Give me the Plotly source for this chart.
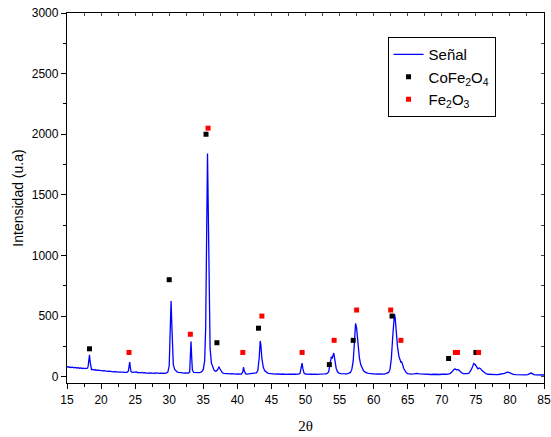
import plotly.graph_objects as go

# Signal (2theta, intensity)
sig_x = [15.0, 15.2, 15.4, 15.6, 15.8, 16.0, 16.2, 16.4, 16.6, 16.8, 17.0, 17.2, 17.4, 17.6, 17.8, 18.0, 18.1, 18.2, 18.3, 18.4, 18.5, 18.6, 18.8,
         19.0, 19.2, 19.4, 19.6, 19.8, 20.0, 20.2, 20.4, 20.6, 20.8, 21.0, 21.2, 21.4, 21.6, 21.8, 22.0, 22.2, 22.4, 22.6, 22.8,
         23.0, 23.2, 23.4, 23.6, 23.8, 24.0, 24.1, 24.2, 24.3, 24.4, 24.6, 24.8, 25.0, 25.2, 25.4, 25.6, 25.8, 26.0, 26.2, 26.4,
         26.6, 26.8, 27.0, 27.2, 27.4, 27.6, 27.8, 28.0, 28.2, 28.4, 28.6, 28.8, 29.0, 29.2, 29.4, 29.6, 29.8, 30.0, 30.1, 30.2,
         30.27, 30.35, 30.45, 30.6, 30.8, 31.0, 31.2, 31.4, 31.6, 31.8, 32.0, 32.2, 32.4, 32.6, 32.8, 33.0, 33.1, 33.2, 33.3, 33.4,
         33.6, 33.8, 34.0, 34.2, 34.4, 34.6, 34.8, 35.0, 35.2, 35.35, 35.45, 35.55, 35.62, 35.7, 35.8, 35.9, 36.0, 36.2, 36.4,
         36.6, 36.8, 37.0, 37.2, 37.3, 37.4, 37.6, 37.8, 38.0, 38.2, 38.4, 38.6, 38.8, 39.0, 39.2, 39.4, 39.6, 39.8, 40.0, 40.2,
         40.4, 40.6, 40.8, 40.9, 41.0, 41.2, 41.4, 41.6, 41.8, 42.0, 42.2, 42.4, 42.6, 42.8, 43.0, 43.2, 43.35, 43.45, 43.6, 43.8,
         44.0, 44.2, 44.4, 44.6, 44.8, 45.0, 45.2, 45.4, 45.6, 45.8, 46.0, 46.2, 46.4, 46.6, 46.8, 47.0, 47.2, 47.4, 47.6, 47.8,
         48.0, 48.2, 48.4, 48.6, 48.8, 49.0, 49.2, 49.4, 49.5, 49.6, 49.8, 50.0, 50.2, 50.4, 50.6, 50.8, 51.0, 51.2, 51.4, 51.6,
         51.8, 52.0, 52.2, 52.4, 52.6, 52.8, 53.0, 53.2, 53.4, 53.6, 53.8, 53.9, 54.0, 54.15, 54.3, 54.5, 54.7, 54.9, 55.2, 55.4,
         55.6, 55.8, 56.0, 56.2, 56.4, 56.6, 56.8, 57.0, 57.2, 57.35, 57.5, 57.7, 57.9, 58.1, 58.3, 58.5, 58.7, 58.9, 59.1, 59.3,
         59.5, 59.8, 60.0, 60.3, 60.6, 60.9, 61.2, 61.5, 61.8, 62.0, 62.2, 62.4, 62.6, 62.8, 62.95, 63.05, 63.15, 63.3, 63.5, 63.7,
         63.9, 64.0, 64.1, 64.2, 64.4, 64.6, 64.8, 65.0, 65.3, 65.6, 65.9, 66.2, 66.4, 66.7, 67.0, 67.3, 67.6, 67.9, 68.2, 68.5,
         68.8, 69.1, 69.4, 69.7, 70.0, 70.3, 70.6, 70.9, 71.2, 71.5, 71.8, 72.0, 72.2, 72.4, 72.6, 72.9, 73.2, 73.5, 73.8, 74.0,
         74.2, 74.5, 74.7, 74.9, 75.1, 75.3, 75.5, 75.7, 75.9, 76.2, 76.5, 76.8, 77.1, 77.4, 77.7, 78.0, 78.3, 78.6, 78.9, 79.2,
         79.5, 79.7, 79.9, 80.2, 80.5, 80.8, 81.1, 81.4, 81.7, 82.0, 82.3, 82.6, 82.9, 83.1, 83.3, 83.5, 83.8, 84.1, 84.4, 84.7, 85.0]
sig_y = [82, 78, 80, 76, 79, 74, 77, 72, 75, 70, 72, 68, 71, 66, 68, 70, 85, 130, 180, 120, 70, 58, 60,
         55, 57, 52, 54, 50, 52, 48, 50, 46, 48, 44, 46, 42, 44, 40, 42, 38, 40, 37, 39,
         36, 38, 35, 37, 36, 45, 90, 120, 75, 42, 36, 38, 34, 40, 33, 36, 32, 35, 31, 34,
         30, 33, 30, 32, 29, 31, 28, 31, 28, 30, 27, 30, 28, 30, 28, 32, 38, 90, 250, 520,
         625, 480, 220, 100, 60, 45, 38, 35, 32, 31, 30, 29, 31, 28, 30, 38, 150, 290, 160, 55,
         35, 33, 32, 34, 33, 36, 42, 60, 130, 400, 1000, 1600, 1840, 1500, 900, 450, 230, 110, 70,
         52, 45, 50, 70, 82, 70, 45, 32, 28, 26, 25, 24, 26, 23, 25, 22, 24, 22, 23, 21,
         23, 22, 40, 78, 50, 25, 22, 24, 22, 23, 24, 26, 28, 32, 50, 150, 295, 260, 150, 80,
         50, 38, 32, 28, 26, 24, 23, 24, 22, 23, 21, 22, 20, 22, 20, 21, 19, 21, 20, 22,
         19, 21, 19, 20, 22, 21, 28, 80, 112, 70, 28, 21, 20, 22, 19, 21, 20, 22, 20, 21,
         19, 21, 20, 22, 21, 23, 24, 28, 40, 90, 165, 150, 170, 195, 140, 70, 40, 30, 26, 24,
         23, 25, 24, 26, 28, 35, 60, 130, 300, 440, 400, 260, 160, 100, 70, 50, 40, 33, 30, 27,
         25, 24, 23, 22, 23, 21, 23, 22, 25, 28, 35, 60, 150, 330, 500, 515, 490, 380, 250, 170,
         135, 120, 122, 110, 70, 45, 32, 26, 23, 22, 24, 30, 28, 24, 22, 20, 22, 19, 20, 18,
         20, 18, 19, 18, 20, 18, 20, 22, 26, 40, 60, 63, 55, 60, 45, 32, 25, 23, 25, 30,
         45, 80, 108, 100, 75, 65, 72, 66, 50, 35, 25, 20, 18, 17, 18, 17, 18, 20, 22, 28,
         35, 38, 34, 26, 20, 17, 16, 17, 15, 16, 15, 17, 22, 30, 25, 17, 15, 14, 15, 13, 14]

# Phase markers
cofe_x = [18.3, 30.0, 35.4, 37.0, 43.1, 53.5, 57.0, 62.7, 71.0, 75.0]
cofe_y = [230, 800, 2000, 280, 400, 100, 300, 500, 150, 200]
fe_x = [24.1, 33.1, 35.7, 40.8, 43.6, 49.5, 54.2, 57.5, 62.5, 64.0, 72.0, 72.3, 75.4]
fe_y = [200, 350, 2050, 200, 500, 200, 300, 550, 550, 300, 200, 200, 200]

fig = go.Figure()
fig.add_trace(go.Scatter(x=sig_x, y=sig_y, mode="lines", name="Señal",
                         line=dict(color="#0000FF", width=1.3)))
fig.add_trace(go.Scatter(x=cofe_x, y=cofe_y, mode="markers", name="CoFe<sub>2</sub>O<sub>4</sub>",
                         marker=dict(symbol="square", color="black", size=5)))
fig.add_trace(go.Scatter(x=fe_x, y=fe_y, mode="markers", name="Fe<sub>2</sub>O<sub>3</sub>",
                         marker=dict(symbol="square", color="#FF0000", size=5)))
# dummy trace for mirrored inside-tick axes
fig.add_trace(go.Scatter(x=[None], y=[None], xaxis="x2", yaxis="y2", showlegend=False, hoverinfo="skip"))

font = "Liberation Sans, Arial, sans-serif"
fig.update_layout(
    width=551, height=437,
    margin=dict(l=67, r=7, t=13, b=54, autoexpand=False),
    paper_bgcolor="white", plot_bgcolor="white",
    font=dict(family=font, size=12, color="black"),
    showlegend=True,
    legend=dict(x=0.672, y=0.935, xanchor="left", yanchor="top",
                bordercolor="black", borderwidth=1, bgcolor="white",
                font=dict(family=font, size=15, color="black"),
                itemwidth=30, tracegroupgap=3),
    xaxis=dict(range=[15, 85], dtick=5, tick0=15, showline=True, linecolor="black", linewidth=1.3,
               ticks="outside", ticklen=5, tickcolor="black", showgrid=False, zeroline=False,
               automargin=False,
               minor=dict(ticks="outside", dtick=2.5, ticklen=3, tickcolor="black"),
               tickfont=dict(size=12),
               title=dict(text="2θ", font=dict(family="Liberation Serif, Times New Roman, serif", size=15), standoff=14)),
    yaxis=dict(range=[-52, 3000], dtick=500, tick0=0, showline=True, linecolor="black", linewidth=1.3,
               ticks="outside", ticklen=5, tickcolor="black", showgrid=False, zeroline=False,
               automargin=False,
               minor=dict(ticks="outside", dtick=250, ticklen=3, tickcolor="black"),
               tickfont=dict(size=12),
               title=dict(text="Intensidad (u.a)", font=dict(size=14), standoff=4)),
    xaxis2=dict(range=[15, 85], overlaying="x", side="top", anchor="y2", showline=True, linecolor="black",
                linewidth=1.3, ticks="inside", ticklen=3, dtick=2.5, tick0=15, showticklabels=False,
                showgrid=False, zeroline=False, automargin=False),
    yaxis2=dict(range=[-52, 3000], overlaying="y", side="right", anchor="x2", showline=True, linecolor="black",
                linewidth=1.3, ticks="inside", ticklen=3, dtick=250, tick0=0, showticklabels=False,
                showgrid=False, zeroline=False, automargin=False),
)

fig.write_html("out.html")
